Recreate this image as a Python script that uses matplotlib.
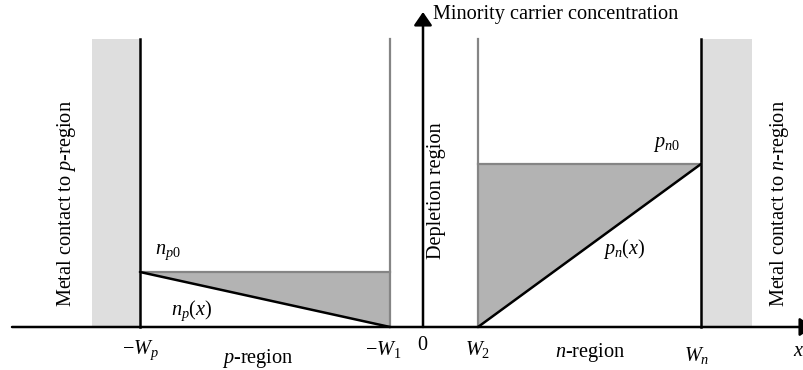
import numpy as np
import matplotlib.pyplot as plt

plt.rcParams['font.family'] = ['Liberation Serif', 'DejaVu Serif']
plt.rcParams['mathtext.fontset'] = 'custom'
plt.rcParams['mathtext.rm'] = 'Liberation Serif'
plt.rcParams['mathtext.it'] = 'Liberation Serif:italic'

# Region boundaries along x (distance from the junction origin)
x_wp = -283      # -W_p, edge of the p-side contact
x_w1 = -33       # -W_1, edge of the depletion region on the p side
x_w2 = 55        # W_2, edge of the depletion region on the n side
x_wn = 278       # W_n, edge of the n-side contact
contact_p_width = 48
contact_n_width = 51
device_height = 288

# Equilibrium minority carrier concentrations
n_p0 = 55
p_n0 = 163

# Profiles (linear, short-diode case)
np_x = [x_wp, x_w1]
np_y = [n_p0, 0]
pn_x = [x_w2, x_wn]
pn_y = [0, p_n0]

tick_pos = [x_wp, x_w1, 0, x_w2, x_wn]
tick_labels = [r'$-W_p$', r'$-W_1$', '0', r'$W_2$', r'$W_n$']

BLACK = 'black'
GRAY_LINE = '#858585'
FILL = '#b3b3b3'
CONTACT = '#dedede'
FS = 14.6
LW = 1.8

fig = plt.figure(figsize=(8.04, 3.70), dpi=100)
ax = fig.add_axes([0, 0, 1, 1])
ax.set_xlim(-423, 381)
ax.set_ylim(-43, 327)
ax.axis('off')

# Metal contacts
ax.fill_betweenx([0, device_height], x_wp - contact_p_width, x_wp, color=CONTACT, lw=0)
ax.fill_betweenx([0, device_height], x_wn, x_wn + contact_n_width, color=CONTACT, lw=0)

# Excess carrier areas
ax.fill_between(np_x, np_y, n_p0, color=FILL, lw=0)
ax.fill_between(pn_x, pn_y, p_n0, color=FILL, lw=0)

# Region boundaries
ax.plot([x_wp, x_wp], [0, device_height], color=BLACK, lw=LW)
ax.plot([x_wn, x_wn], [0, device_height], color=BLACK, lw=LW)
ax.plot([x_w1, x_w1], [0, device_height], color=GRAY_LINE, lw=1.6)
ax.plot([x_w2, x_w2], [0, device_height], color=GRAY_LINE, lw=1.6)

# Equilibrium levels
ax.plot([x_wp, x_w1], [n_p0, n_p0], color=GRAY_LINE, lw=1.6)
ax.plot([x_w2, x_wn], [p_n0, p_n0], color=GRAY_LINE, lw=1.6)

# Carrier profiles
ax.plot(np_x, np_y, color=BLACK, lw=LW, solid_capstyle='round')
ax.plot(pn_x, pn_y, color=BLACK, lw=LW, solid_capstyle='round')

# Axes with arrows
arrow = dict(arrowstyle='-|>,head_length=0.8,head_width=0.55', color=BLACK,
             lw=LW, shrinkA=0, shrinkB=0, mutation_scale=10)
ax.annotate('', xy=(390, 0), xytext=(-411, 0), arrowprops=arrow,
            annotation_clip=False)
ax.annotate('', xy=(0, 315), xytext=(0, 0), arrowprops=arrow,
            annotation_clip=False)

ax.text(10, 313, 'Minority carrier concentration', fontsize=FS, ha='left', va='center')

# Tick labels under the x axis
tick_dy = [-23, -23, -19, -23, -28]
tick_dx = [0, -7, -1, 0, -4]
for pos, lab, dx, dy in zip(tick_pos, tick_labels, tick_dx, tick_dy):
    ax.text(pos + dx, dy, lab, fontsize=FS, ha='center', va='center')
ax.text(376, -25, r'$x$', fontsize=FS, ha='center', va='center')
ax.text(-165, -31, r'$p$-region', fontsize=FS, ha='center', va='center')
ax.text(167, -25, r'$n$-region', fontsize=FS, ha='center', va='center')

# Curve labels
ax.text(-255, 75, r'$n_{p0}$', fontsize=FS, ha='center', va='center')
ax.text(-231, 16, r'$n_p(x)$', fontsize=FS, ha='center', va='center')
ax.text(243, 182, r'$p_{n0}$', fontsize=FS, ha='center', va='center')
ax.text(201, 78, r'$p_n(x)$', fontsize=FS, ha='center', va='center')

# Vertical region labels
ax.text(-356, 123, r'Metal contact to $p$-region', fontsize=FS, rotation=90,
        ha='center', va='center')
ax.text(14, 136, 'Depletion region', fontsize=FS, rotation=90, ha='center', va='center')
ax.text(357, 123, r'Metal contact to $n$-region', fontsize=FS, rotation=90,
        ha='center', va='center')

fig.savefig('out.png', dpi=100)
